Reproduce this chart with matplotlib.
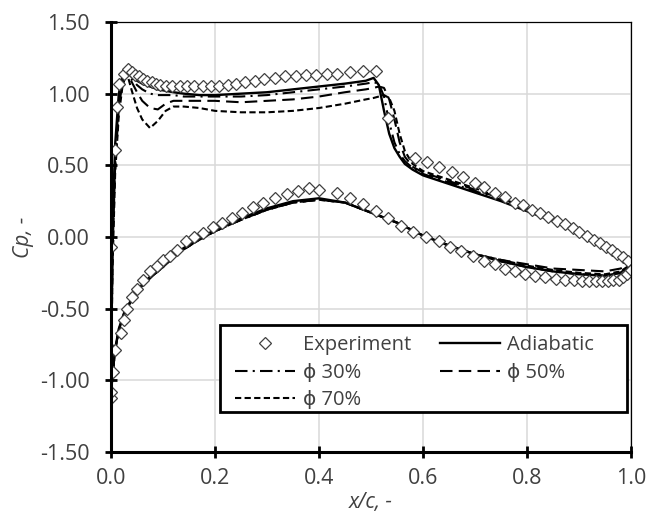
import numpy as np
import matplotlib
matplotlib.use("Agg")
from matplotlib import pyplot as plt
from matplotlib.lines import Line2D
from matplotlib.patches import Rectangle

plt.rcParams['font.family'] = ['Open Sans', 'DejaVu Sans']

# experiment, suction side
exp_up_x = [0.0, 0.008, 0.012, 0.016, 0.024, 0.033, 0.040, 0.047, 0.054, 0.062, 0.070, 0.078,
            0.086, 0.095, 0.105, 0.118, 0.132, 0.146, 0.160, 0.176, 0.192, 0.208, 0.224, 0.240,
            0.258, 0.276, 0.295, 0.315, 0.335, 0.355, 0.375, 0.395, 0.415, 0.435, 0.460, 0.485,
            0.510, 0.533, 0.585, 0.607, 0.630, 0.655, 0.677, 0.700, 0.718, 0.738, 0.757, 0.777,
            0.793, 0.810, 0.825, 0.840, 0.857, 0.873, 0.888, 0.900, 0.915, 0.928, 0.940, 0.952,
            0.963, 0.974, 0.985, 0.995]
exp_up_cp = [-0.07, 0.61, 0.91, 1.07, 1.14, 1.17, 1.15, 1.13, 1.12, 1.10, 1.09, 1.08,
             1.07, 1.06, 1.05, 1.05, 1.05, 1.05, 1.05, 1.05, 1.05, 1.05, 1.06, 1.07,
             1.08, 1.09, 1.10, 1.11, 1.12, 1.12, 1.13, 1.13, 1.14, 1.14, 1.15, 1.16,
             1.16, 0.83, 0.55, 0.52, 0.49, 0.45, 0.42, 0.38, 0.35, 0.31, 0.28, 0.24,
             0.22, 0.19, 0.17, 0.14, 0.11, 0.09, 0.06, 0.035, 0.01, -0.02, -0.04, -0.07,
             -0.09, -0.12, -0.14, -0.17]

# experiment, pressure side
exp_lo_x = [0.0, 0.0, 0.004, 0.0, 0.008, 0.020, 0.025, 0.030, 0.040, 0.050, 0.062, 0.075,
            0.088, 0.100, 0.113, 0.127, 0.144, 0.160, 0.177, 0.196, 0.213, 0.233, 0.252, 0.273,
            0.292, 0.315, 0.338, 0.360, 0.380, 0.400, 0.435, 0.460, 0.485, 0.510, 0.533, 0.557,
            0.580, 0.605, 0.630, 0.652, 0.673, 0.696, 0.717, 0.738, 0.758, 0.777, 0.796, 0.815,
            0.835, 0.855, 0.873, 0.890, 0.905, 0.920, 0.933, 0.945, 0.956, 0.966, 0.976, 0.985,
            0.993, 1.0]
exp_lo_cp = [-1.12, -1.08, -0.94, -0.78, -0.79, -0.67, -0.58, -0.50, -0.42, -0.36, -0.30, -0.24,
             -0.20, -0.16, -0.13, -0.09, -0.03, 0.00, 0.03, 0.07, 0.10, 0.13, 0.17, 0.21,
             0.24, 0.27, 0.30, 0.32, 0.34, 0.33, 0.31, 0.27, 0.23, 0.18, 0.13, 0.08,
             0.035, 0.00, -0.03, -0.07, -0.10, -0.13, -0.17, -0.19, -0.22, -0.24, -0.26, -0.27,
             -0.28, -0.29, -0.30, -0.30, -0.31, -0.31, -0.31, -0.31, -0.31, -0.30, -0.30, -0.28,
             -0.26, -0.23]

# CFD, suction side
up_x = [0.0, 0.003, 0.008, 0.015, 0.022, 0.03, 0.04, 0.05, 0.06, 0.075, 0.09, 0.105, 0.12,
        0.14, 0.17, 0.2, 0.25, 0.3, 0.35, 0.4, 0.45, 0.49, 0.505, 0.515, 0.525, 0.535, 0.545,
        0.555, 0.565, 0.58, 0.6, 0.65, 0.7, 0.75, 0.8, 0.85, 0.9, 0.95, 0.98, 1.0]
adi_up = [-1.0, 0.1, 0.65, 1.0, 1.12, 1.16, 1.12, 1.09, 1.07, 1.05, 1.03, 1.02, 1.01,
          1.00, 0.99, 0.99, 1.00, 1.01, 1.03, 1.05, 1.07, 1.09, 1.11, 1.06, 0.88, 0.72, 0.62,
          0.56, 0.51, 0.47, 0.43, 0.37, 0.31, 0.25, 0.18, 0.11, 0.03, -0.06, -0.12, -0.17]
p30_up = [-1.0, 0.0, 0.55, 0.95, 1.10, 1.15, 1.10, 1.06, 1.03, 1.00, 0.99, 0.99, 0.99,
          0.98, 0.98, 0.98, 0.98, 0.99, 1.01, 1.03, 1.05, 1.07, 1.08, 1.07, 0.98, 0.80, 0.66,
          0.58, 0.53, 0.48, 0.44, 0.38, 0.32, 0.26, 0.19, 0.12, 0.04, -0.05, -0.11, -0.16]
p50_up = [-1.0, -0.1, 0.50, 0.90, 1.08, 1.15, 1.08, 1.01, 0.95, 0.90, 0.89, 0.93, 0.95,
          0.95, 0.95, 0.95, 0.94, 0.95, 0.96, 0.98, 1.01, 1.03, 1.04, 1.05, 1.04, 0.96, 0.82,
          0.66, 0.56, 0.49, 0.45, 0.39, 0.33, 0.27, 0.20, 0.12, 0.04, -0.05, -0.11, -0.16]
p70_up = [-1.0, -0.2, 0.45, 0.85, 1.05, 1.15, 1.02, 0.90, 0.82, 0.76, 0.81, 0.88, 0.91,
          0.91, 0.90, 0.88, 0.87, 0.87, 0.88, 0.90, 0.93, 0.96, 0.97, 0.98, 0.99, 0.97, 0.88,
          0.72, 0.60, 0.51, 0.46, 0.40, 0.34, 0.27, 0.20, 0.12, 0.04, -0.05, -0.11, -0.16]

# CFD, pressure side
lo_x = [0.0, 0.003, 0.008, 0.015, 0.025, 0.04, 0.06, 0.08, 0.1, 0.13, 0.16, 0.2, 0.25, 0.3,
        0.35, 0.4, 0.45, 0.5, 0.55, 0.6, 0.65, 0.7, 0.75, 0.8, 0.85, 0.9, 0.95, 0.98, 1.0]
adi_lo = [-1.1, -0.95, -0.78, -0.64, -0.53, -0.43, -0.33, -0.26, -0.20, -0.10, -0.03, 0.05,
          0.13, 0.20, 0.25, 0.27, 0.24, 0.17, 0.10, 0.01, -0.06, -0.12, -0.17, -0.21, -0.24,
          -0.26, -0.27, -0.25, -0.20]
p30_lo = [-1.1, -0.96, -0.79, -0.65, -0.54, -0.44, -0.34, -0.27, -0.21, -0.11, -0.04, 0.04,
          0.12, 0.19, 0.24, 0.26, 0.24, 0.17, 0.10, 0.01, -0.06, -0.12, -0.17, -0.21, -0.24,
          -0.26, -0.27, -0.25, -0.19]
p50_lo = [-1.1, -0.96, -0.79, -0.65, -0.54, -0.44, -0.34, -0.27, -0.21, -0.11, -0.04, 0.04,
          0.12, 0.19, 0.24, 0.26, 0.24, 0.17, 0.10, 0.01, -0.06, -0.12, -0.16, -0.19, -0.22,
          -0.23, -0.24, -0.22, -0.18]
p70_lo = [-1.1, -0.96, -0.79, -0.65, -0.54, -0.44, -0.34, -0.27, -0.21, -0.11, -0.04, 0.04,
          0.12, 0.19, 0.24, 0.26, 0.24, 0.17, 0.10, 0.01, -0.06, -0.12, -0.16, -0.20, -0.23,
          -0.25, -0.26, -0.24, -0.19]

x_ticks = [0.0, 0.2, 0.4, 0.6, 0.8, 1.0]
y_ticks = [-1.5, -1.0, -0.5, 0.0, 0.5, 1.0, 1.5]

styles = {
    'adi': dict(color='black', lw=1.7, ls='-'),
    'p30': dict(color='black', lw=1.5, ls=(0, (6, 2.5, 1, 2.5))),
    'p50': dict(color='black', lw=1.5, ls=(0, (6, 3))),
    'p70': dict(color='black', lw=1.5, ls=(0, (3, 1.6))),
}

fig = plt.figure(figsize=(6.47, 5.2), dpi=100)
ax = fig.add_axes([0.1716, 0.1308, 0.8037, 0.8269])

ax.plot(up_x, p70_up, **styles['p70'])
ax.plot(lo_x, p70_lo, **styles['p70'])
ax.plot(up_x, p50_up, **styles['p50'])
ax.plot(lo_x, p50_lo, **styles['p50'])
ax.plot(up_x, p30_up, **styles['p30'])
ax.plot(lo_x, p30_lo, **styles['p30'])
ax.plot(up_x, adi_up, **styles['adi'])
ax.plot(lo_x, adi_lo, **styles['adi'])

mk = dict(ls='none', marker='D', ms=6.3, mfc='white', mec='#404040', mew=0.9)
ax.plot(exp_up_x, exp_up_cp, **mk)
ax.plot(exp_lo_x, exp_lo_cp, **mk)

ax.set_xlim(0, 1)
ax.set_ylim(-1.5, 1.5)
ax.set_xticks(x_ticks)
ax.set_yticks(y_ticks)
ax.set_xticklabels(['%.1f' % v for v in x_ticks])
ax.set_yticklabels(['%.2f' % v for v in y_ticks])
ax.grid(True, color='#d9d9d9', lw=1.1)
ax.set_axisbelow(True)

for side in ['left', 'bottom']:
    ax.spines[side].set_linewidth(2.2)
for side in ['top', 'right']:
    ax.spines[side].set_linewidth(0.9)
ax.tick_params(direction='inout', length=9, width=2.0, labelsize=15.5, colors='black',
               labelcolor='#404040')
ax.tick_params(axis='y', pad=11)
ax.tick_params(axis='x', pad=7)

ax.set_xlabel('x/c, -', fontsize=15, style='italic', color='#404040', labelpad=2)
ax.set_ylabel('Cp, -', fontsize=15, style='italic', color='#404040', labelpad=4)

# legend box drawn separately so the entries can sit left inside it
ax.add_patch(Rectangle((0.2096, 0.093), 0.7827, 0.2023, transform=ax.transAxes,
                       fill=True, facecolor='white', edgecolor='black', lw=2.0, zorder=5))

handles = [
    Line2D([], [], **mk),
    Line2D([], [], **styles['p30']),
    Line2D([], [], **styles['p70']),
    Line2D([], [], **styles['adi']),
    Line2D([], [], **styles['p50']),
]
labels = ['Experiment', '\u03d5 30%', '\u03d5 70%', 'Adiabatic', '\u03d5 50%']
leg = ax.legend(handles, labels, ncol=2, loc='upper left',
                bbox_to_anchor=(0.2385, 0.272), frameon=False,
                fontsize=14.5, handlelength=3.0, handletextpad=0.35,
                columnspacing=1.45, labelspacing=0.38,
                borderpad=0.0, borderaxespad=0.0)
leg.set_zorder(6)
for t in leg.get_texts():
    t.set_color('#404040')

fig.savefig('out.png', dpi=100)
